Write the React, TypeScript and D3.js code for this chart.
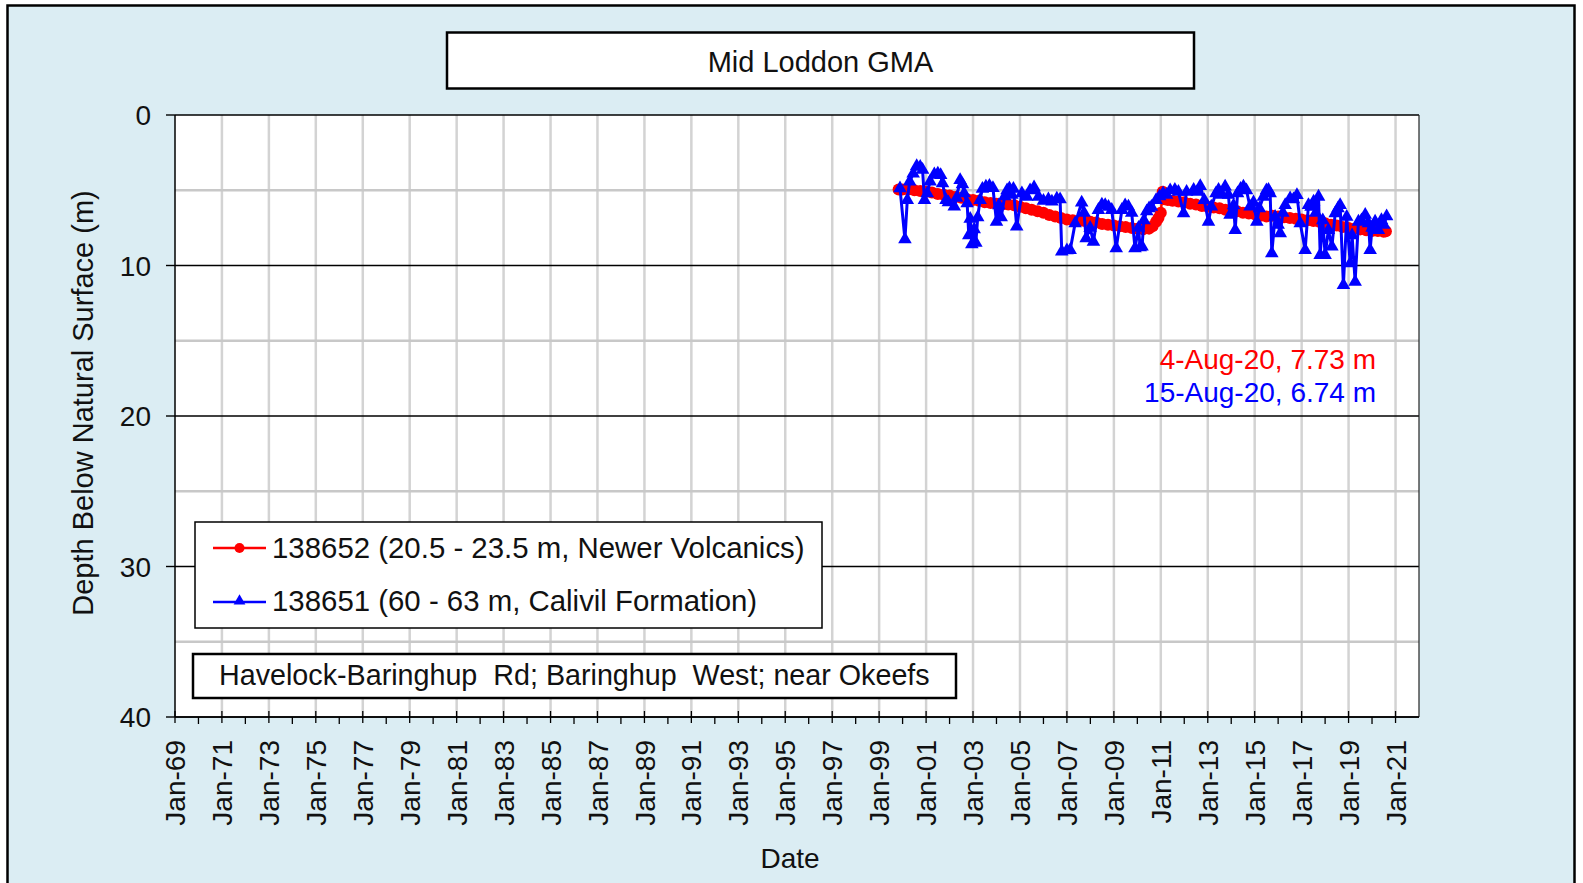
import React from "react";
import * as d3 from "d3";

const W = 1583;
const H = 883;
const FONT = "'Liberation Sans', Arial, sans-serif";

// x ticks: labelled every two years, minor every year in between
const majorTickYears = [1969, 1971, 1973, 1975, 1977, 1979, 1981, 1983, 1985, 1987, 1989, 1991, 1993, 1995, 1997, 1999, 2001, 2003, 2005, 2007, 2009, 2011, 2013, 2015, 2017, 2019, 2021];
const minorTickYears = [1970, 1972, 1974, 1976, 1978, 1980, 1982, 1984, 1986, 1988, 1990, 1992, 1994, 1996, 1998, 2000, 2002, 2004, 2006, 2008, 2010, 2012, 2014, 2016, 2018, 2020];
const depthTicks = [0, 10, 20, 30, 40];
const depthMinorGrid = [5, 15, 25, 35];

const titleText = "Mid Loddon GMA";
const yLabel = "Depth Below Natural Surface (m)";
const xLabel = "Date";
const siteText = "Havelock-Baringhup  Rd; Baringhup  West; near Okeefs";
const redName = "138652 (20.5 - 23.5 m, Newer Volcanics)";
const blueName = "138651 (60 - 63 m, Calivil Formation)";
const redLast = "4-Aug-20, 7.73 m";
const blueLast = "15-Aug-20, 6.74 m";

// [decimal year, depth m]
const redSeries: [number, number][] = [
  [1999.83, 4.95], [2000.0, 4.95], [2000.25, 4.95], [2000.5, 5.0], [2000.75, 5.05], [2001.0, 5.1],
  [2001.25, 5.15], [2001.5, 5.25], [2001.75, 5.3], [2002.0, 5.35], [2002.25, 5.45], [2002.5, 5.5],
  [2002.75, 5.6], [2003.0, 5.65], [2003.25, 5.7], [2003.5, 5.8], [2003.75, 5.85], [2004.0, 5.9],
  [2004.25, 5.95], [2004.5, 5.95], [2004.75, 6.0], [2005.0, 6.1], [2005.25, 6.2], [2005.5, 6.3],
  [2005.75, 6.4], [2006.0, 6.5], [2006.25, 6.65], [2006.5, 6.75], [2006.75, 6.85], [2007.0, 6.95],
  [2007.25, 7.0], [2007.5, 7.05], [2007.75, 7.05], [2008.0, 7.1], [2008.25, 7.15], [2008.5, 7.25],
  [2008.75, 7.3], [2009.0, 7.35], [2009.25, 7.4], [2009.5, 7.45], [2009.75, 7.5], [2010.0, 7.55],
  [2010.25, 7.6], [2010.5, 7.55], [2010.65, 7.4], [2010.8, 7.1], [2010.9, 6.85], [2011.0, 6.5],
  [2011.08, 5.1], [2011.15, 5.6], [2011.3, 5.65], [2011.5, 5.7], [2011.75, 5.75], [2012.0, 5.8],
  [2012.25, 5.9], [2012.5, 5.95], [2012.75, 6.05], [2013.0, 6.1], [2013.25, 6.15], [2013.5, 6.2],
  [2013.75, 6.3], [2014.0, 6.35], [2014.25, 6.4], [2014.5, 6.5], [2014.75, 6.55], [2015.0, 6.6],
  [2015.25, 6.7], [2015.5, 6.75], [2015.75, 6.7], [2016.0, 6.75], [2016.25, 6.8], [2016.5, 6.85],
  [2016.75, 6.9], [2017.0, 6.95], [2017.25, 7.0], [2017.5, 7.05], [2017.75, 7.1], [2018.0, 7.2],
  [2018.25, 7.3], [2018.5, 7.35], [2018.75, 7.45], [2019.0, 7.5], [2019.25, 7.55], [2019.5, 7.6],
  [2019.75, 7.65], [2020.0, 7.7], [2020.25, 7.7], [2020.5, 7.75], [2020.59, 7.73],
];

const blueSeries: [number, number][] = [
  [1999.89, 4.87], [2000.1, 8.26], [2000.2, 5.65], [2000.3, 4.43], [2000.45, 3.9], [2000.6, 3.4],
  [2000.75, 3.45], [2000.85, 3.65], [2000.93, 5.65], [2001.05, 5.2], [2001.17, 4.43], [2001.35, 3.95],
  [2001.5, 3.9], [2001.62, 4.0], [2001.7, 4.54], [2001.85, 5.65], [2001.95, 5.8], [2002.2, 6.09],
  [2002.3, 5.5], [2002.45, 4.32], [2002.55, 4.6], [2002.62, 5.2], [2002.75, 5.87], [2002.82, 8.0],
  [2002.88, 6.9], [2002.95, 8.6], [2003.05, 7.6], [2003.12, 8.5], [2003.2, 6.8], [2003.3, 5.65],
  [2003.4, 4.9], [2003.55, 4.76], [2003.7, 4.7], [2003.85, 4.85], [2004.0, 7.1], [2004.1, 6.0],
  [2004.2, 6.8], [2004.35, 5.4], [2004.45, 5.0], [2004.55, 4.87], [2004.65, 5.3], [2004.72, 4.9],
  [2004.86, 7.42], [2005.08, 5.2], [2005.29, 5.43], [2005.43, 5.0], [2005.6, 4.81], [2005.79, 5.43],
  [2006.0, 5.7], [2006.21, 5.6], [2006.36, 5.75], [2006.57, 5.55], [2006.71, 5.6], [2006.78, 9.08],
  [2007.0, 9.0], [2007.14, 8.97], [2007.35, 7.2], [2007.63, 5.82], [2007.73, 6.5], [2007.82, 8.2],
  [2007.99, 7.5], [2008.13, 8.42], [2008.34, 6.31], [2008.49, 5.95], [2008.63, 5.98], [2008.77, 6.1],
  [2008.91, 6.31], [2009.1, 8.86], [2009.34, 6.31], [2009.48, 6.0], [2009.62, 6.09], [2009.76, 6.5],
  [2009.9, 8.86], [2010.05, 7.5], [2010.12, 8.8], [2010.2, 8.75], [2010.28, 7.0], [2010.4, 6.4],
  [2010.5, 6.2], [2010.6, 6.1], [2010.8, 5.65], [2010.95, 5.4], [2011.1, 5.2], [2011.25, 5.3],
  [2011.4, 5.0], [2011.6, 4.98], [2011.75, 5.1], [2011.97, 6.53], [2012.1, 5.1], [2012.4, 4.98],
  [2012.55, 5.1], [2012.68, 4.72], [2012.85, 5.65], [2013.03, 7.09], [2013.15, 6.09], [2013.35, 5.2],
  [2013.46, 4.98], [2013.6, 5.3], [2013.74, 4.76], [2013.88, 5.3], [2013.95, 6.64], [2014.1, 6.0],
  [2014.17, 7.64], [2014.27, 5.2], [2014.4, 4.9], [2014.52, 4.76], [2014.65, 5.0], [2014.8, 6.09],
  [2014.95, 5.8], [2015.09, 7.09], [2015.2, 6.2], [2015.37, 5.43], [2015.5, 5.0], [2015.59, 4.98],
  [2015.66, 5.2], [2015.73, 9.19], [2015.87, 6.76], [2016.0, 7.3], [2016.09, 7.86], [2016.2, 6.5],
  [2016.3, 5.98], [2016.51, 5.54], [2016.65, 5.6], [2016.8, 5.32], [2016.94, 7.2], [2017.15, 8.97],
  [2017.29, 5.98], [2017.4, 6.1], [2017.51, 5.76], [2017.6, 6.5], [2017.72, 5.43], [2017.79, 9.3],
  [2017.9, 7.0], [2018.0, 9.3], [2018.14, 7.64], [2018.29, 8.75], [2018.43, 6.53], [2018.55, 6.2],
  [2018.64, 5.98], [2018.78, 11.3], [2018.92, 6.76], [2019.07, 9.86], [2019.15, 8.0], [2019.28, 11.08],
  [2019.42, 7.09], [2019.55, 7.0], [2019.71, 6.64], [2019.85, 7.2], [2019.92, 8.97], [2020.0, 7.5],
  [2020.13, 7.09], [2020.27, 7.64], [2020.4, 6.98], [2020.5, 7.3], [2020.62, 6.74],
];

// decimal year -> Date
function toDate(t: number) {
  const yr = Math.floor(t);
  const a = +new Date(yr, 0, 1);
  const b = +new Date(yr + 1, 0, 1);
  return new Date(a + (t - yr) * (b - a));
}

const plot = { left: 175, right: 1419, top: 115, bottom: 717 };

export default function App() {
  const x = d3.scaleTime()
    .domain([new Date(1969, 0, 1), new Date(2022, 0, 1)])
    .range([plot.left, plot.right]);
  const y = d3.scaleLinear().domain([0, 40]).range([plot.top, plot.bottom]);
  const fmt = d3.timeFormat("%b-%y");

  const line = d3.line<[number, number]>()
    .x(d => x(toDate(d[0])))
    .y(d => y(d[1]));
  const tri = d3.symbol(d3.symbolTriangle, 80)();
  const triLegend = d3.symbol(d3.symbolTriangle, 60)();

  return (
    <svg width={W} height={H} style={{ position: "absolute", left: 0, top: 0 }} fontFamily={FONT}>
      <rect x={0} y={0} width={W} height={H} fill="#fff" />
      <rect x={7.5} y={5.5} width={1567} height={900} fill="#dbedf3" stroke="#000" strokeWidth={2.5} />

      {/* title */}
      <rect x={447} y={32.5} width={747} height={56} fill="#fff" stroke="#000" strokeWidth={2.5} />
      <text x={820.5} y={72} textAnchor="middle" fontSize={29} fill="#111">{titleText}</text>

      {/* plot area */}
      <rect x={plot.left} y={plot.top} width={plot.right - plot.left} height={plot.bottom - plot.top} fill="#fff" />
      {majorTickYears.slice(1).map(yr => (
        <line key={"vg" + yr} x1={x(new Date(yr, 0, 1))} x2={x(new Date(yr, 0, 1))} y1={plot.top} y2={plot.bottom}
          stroke="#d3d3d3" strokeWidth={2.5} />
      ))}
      {depthMinorGrid.map(d => (
        <line key={"hg" + d} x1={plot.left} x2={plot.right} y1={y(d)} y2={y(d)} stroke="#c8c8c8" strokeWidth={2.5} />
      ))}
      {depthTicks.map(d => (
        <line key={"hm" + d} x1={plot.left} x2={plot.right} y1={y(d)} y2={y(d)} stroke="#000" strokeWidth={1.4} />
      ))}
      <line x1={plot.right} x2={plot.right} y1={plot.top} y2={plot.bottom} stroke="#222" strokeWidth={1.2} />

      {/* series */}
      <path d={line(redSeries) || ""} fill="none" stroke="#ff0000" strokeWidth={2.5} />
      {redSeries.map((d, i) => (
        <circle key={"r" + i} cx={x(toDate(d[0]))} cy={y(d[1])} r={6} fill="#ff0000" />
      ))}
      <path d={line(blueSeries) || ""} fill="none" stroke="#0000ff" strokeWidth={3} strokeLinejoin="round" />
      {blueSeries.map((d, i) => (
        <path key={"b" + i} d={tri || ""} transform={`translate(${x(toDate(d[0]))},${y(d[1])})`} fill="#0000ff" />
      ))}

      {/* last readings */}
      <text x={1376} y={369} textAnchor="end" fontSize={28} fill="#ff0000">{redLast}</text>
      <text x={1376} y={402} textAnchor="end" fontSize={28} fill="#0000ff">{blueLast}</text>

      {/* legend */}
      <rect x={195} y={522} width={627} height={106} fill="#fff" stroke="#000" strokeWidth={1.5} />
      <line x1={213} x2={266} y1={548} y2={548} stroke="#ff0000" strokeWidth={2.5} />
      <circle cx={239.5} cy={548} r={5} fill="#ff0000" />
      <text x={272} y={558} fontSize={29.4} fill="#111">{redName}</text>
      <line x1={213} x2={266} y1={602} y2={602} stroke="#0000ff" strokeWidth={2.5} />
      <path d={triLegend || ""} transform="translate(239.5,601)" fill="#0000ff" />
      <text x={272} y={611} fontSize={29.4} fill="#111">{blueName}</text>

      {/* site box */}
      <rect x={193} y={654} width={763} height={44} fill="#fff" stroke="#000" strokeWidth={2.5} />
      <text x={219} y={685} fontSize={28.7} fill="#111" style={{ whiteSpace: "pre" }}>{siteText}</text>

      {/* axes */}
      <line x1={plot.left} x2={plot.left} y1={plot.top} y2={plot.bottom} stroke="#000" strokeWidth={1.5} />
      <line x1={plot.left} x2={plot.right} y1={plot.bottom} y2={plot.bottom} stroke="#000" strokeWidth={1.5} />
      {depthTicks.map(d => (
        <g key={"yt" + d}>
          <line x1={166} x2={plot.left} y1={y(d)} y2={y(d)} stroke="#000" strokeWidth={1.4} />
          <text x={151} y={y(d)} dy="0.36em" textAnchor="end" fontSize={28} fill="#111">{d}</text>
        </g>
      ))}
      {minorTickYears.map(yr => (
        <line key={"mt" + yr} x1={x(new Date(yr, 0, 1))} x2={x(new Date(yr, 0, 1))} y1={plot.bottom} y2={plot.bottom + 7}
          stroke="#000" strokeWidth={1.3} />
      ))}
      {majorTickYears.map(yr => {
        const px = x(new Date(yr, 0, 1));
        return (
          <g key={"xt" + yr}>
            <line x1={px} x2={px} y1={plot.bottom - 6} y2={plot.bottom + 6} stroke="#000" strokeWidth={1.3} />
            <text transform={`translate(${px},740) rotate(-90)`} dy="0.36em" textAnchor="end" fontSize={28} fill="#111">
              {fmt(new Date(yr, 0, 1))}
            </text>
          </g>
        );
      })}

      <text transform="translate(83,403) rotate(-90)" dy="0.36em" textAnchor="middle" fontSize={29} fill="#111">{yLabel}</text>
      <text x={790} y={868} textAnchor="middle" fontSize={28} fill="#111">{xLabel}</text>
    </svg>
  );
}
